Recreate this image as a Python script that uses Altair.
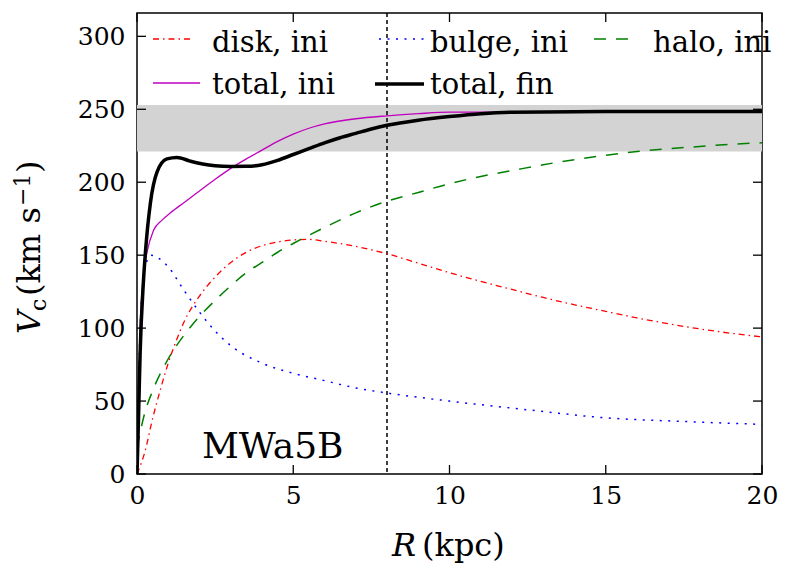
import altair as alt
import pandas as pd

# ---------------- data ----------------
R_DISK = [0, 0.25, 0.5, 0.75, 1.0, 1.25, 1.5, 2.0, 2.5, 3.0, 3.5, 4.0, 4.5, 5.0, 5.5, 6.0, 7.0, 8.0, 9.0, 10.0, 11.0, 12.0, 13.0, 14.0, 15.0, 16.0, 17.0, 18.0, 19.0, 20.0]
V_DISK = [0, 15, 38, 58, 76, 91, 104, 122, 135, 145, 152, 156.5, 159, 160.5, 160.8, 159.5, 156, 151, 144.5, 138, 132, 126.5, 121, 116, 111.5, 107, 103, 99.5, 96.5, 94]

R_BULGE = [0, 0.05, 0.1, 0.2, 0.3, 0.45, 0.6, 1.0, 1.5, 2.0, 2.5, 3.0, 4.0, 5.0, 6.0, 7.0, 8.0, 10.0, 12.5, 15.0, 17.5, 20.0]
V_BULGE = [0, 60, 100, 132, 145, 150, 149, 142, 126, 111, 98, 88, 76, 69, 64, 59, 55.5, 50, 44, 38.5, 36, 34]

R_HALO = [0, 0.25, 0.5, 1.0, 1.5, 2.0, 2.5, 3.0, 3.5, 4.0, 4.5, 5.0, 6.0, 7.0, 8.0, 9.0, 10.0, 11.0, 12.0, 13.0, 14.0, 15.0, 16.0, 17.0, 18.0, 19.0, 20.0]
V_HALO = [18, 42, 57, 79, 95, 108, 119, 129, 138, 145, 152, 158, 169, 179, 187, 193, 199, 204, 208, 212, 215.5, 218.5, 221, 223, 224.5, 226, 227]

R_TOT_INI = [0, 0.1, 0.2, 0.32, 0.53, 0.8, 1.07, 1.5, 2.0, 2.5, 3.0, 3.5, 4.0, 4.5, 5.0, 5.5, 6.0, 7.0, 8.0, 9.0, 10.0, 12.0, 15.0, 20.0]
V_TOT_INI = [0, 100, 135, 152, 167, 174, 179, 186, 194, 202, 209.5, 216, 222, 228, 233, 237, 240, 243.5, 245.5, 247, 248, 248, 248, 248]

R_TOT_FIN = [0, 0.05, 0.1, 0.2, 0.27, 0.43, 0.64, 0.96, 1.28, 1.7, 2.1, 2.5, 3.0, 3.5, 4.0, 4.5, 5.0, 5.5, 6.0, 6.5, 7.0, 7.5, 8.0, 9.0, 10.0, 11.0, 12.0, 15.0, 20.0]
V_TOT_FIN = [0, 40, 83, 130, 152, 186, 207, 216, 217, 214.5, 212.5, 211.3, 210.8, 210.9, 212, 215, 219, 223, 227, 230.5, 233.5, 236.5, 239, 242.5, 245, 247, 248, 248.5, 248.5]

BAND_LO, BAND_HI = 221, 253
R_SUN = 8.0

X_TICKS = [0, 5, 10, 15, 20]
Y_TICKS = [0, 50, 100, 150, 200, 250, 300]
X_DOMAIN = [0, 20]
Y_DOMAIN = [0, 316]

LABEL_TEXT = "MWa5B"

# ---------------- styling ----------------
FONT = "DejaVu Serif"
W, H = 625, 461
TICK_LEN = 9

x_scale = alt.Scale(domain=X_DOMAIN, nice=False, zero=False)
y_scale = alt.Scale(domain=Y_DOMAIN, nice=False, zero=False)

X_AXIS = alt.Axis(values=X_TICKS, format="d", ticks=False, tickSize=0, labelPadding=9,
                  labelFont=FONT, labelFontSize=25, labelColor="black", domain=False,
                  grid=False, title=None, labelFlush=False)
Y_AXIS = alt.Axis(values=Y_TICKS, format="d", ticks=False, tickSize=0, labelPadding=12,
                  labelFont=FONT, labelFontSize=25, labelColor="black", domain=False,
                  grid=False, title=None)


def X(field):
    return alt.X(field, type="quantitative", scale=x_scale, axis=X_AXIS)


def Y(field):
    return alt.Y(field, type="quantitative", scale=y_scale, axis=Y_AXIS)


def curve(R, V, color, width, dash=None):
    df = pd.DataFrame({"R": R, "V": V})
    kw = dict(color=color, strokeWidth=width, interpolate="monotone", clip=True, strokeCap="butt")
    if dash:
        kw["strokeDash"] = dash
    return alt.Chart(df).mark_line(**kw).encode(x=X("R"), y=Y("V"), order="R:Q")


one = pd.DataFrame({"a": [0]})

band = alt.Chart(pd.DataFrame({"x0": [X_DOMAIN[0]], "x1": [X_DOMAIN[1]],
                               "lo": [BAND_LO], "hi": [BAND_HI]})).mark_rect(
    color="#d3d3d3").encode(x=X("x0"), x2="x1", y=Y("lo"), y2="hi")

vline = alt.Chart(pd.DataFrame({"R": [R_SUN]})).mark_rule(
    color="black", strokeWidth=1.5, strokeDash=[4, 3]).encode(x=X("R"))

disk = curve(R_DISK, V_DISK, "#ff0000", 1.3, [6, 4, 1.5, 4])
bulge = curve(R_BULGE, V_BULGE, "#0000ff", 1.5, [2, 6.5])
halo = curve(R_HALO, V_HALO, "#008000", 1.5, [12, 10])
tot_ini = curve(R_TOT_INI, V_TOT_INI, "#bf00bf", 1.3)
tot_fin = curve(R_TOT_FIN, V_TOT_FIN, "#000000", 3.5)

# inward ticks on all four sides
xt = pd.DataFrame({"t": X_TICKS})
yt = pd.DataFrame({"t": Y_TICKS})
tick_style = dict(color="black", strokeWidth=1.3)
ticks = [
    alt.Chart(xt).mark_rule(**tick_style).encode(x=X("t"), y=alt.value(H), y2=alt.value(H - TICK_LEN)),
    alt.Chart(xt).mark_rule(**tick_style).encode(x=X("t"), y=alt.value(0), y2=alt.value(TICK_LEN)),
    alt.Chart(yt).mark_rule(**tick_style).encode(y=Y("t"), x=alt.value(0), x2=alt.value(TICK_LEN)),
    alt.Chart(yt).mark_rule(**tick_style).encode(y=Y("t"), x=alt.value(W), x2=alt.value(W - TICK_LEN)),
]


def txt(s, x, y, size, italic=False, angle=0, align="left"):
    kw = dict(text=s, font=FONT, fontSize=size, color="black", align=align, baseline="alphabetic")
    if italic:
        kw["fontStyle"] = "italic"
    if angle:
        kw["angle"] = angle
    return alt.Chart(one).mark_text(**kw).encode(x=alt.value(x), y=alt.value(y))


def sample(x1, x2, y, color, width, dash=None):
    kw = dict(color=color, strokeWidth=width, strokeCap="butt")
    if dash:
        kw["strokeDash"] = dash
    return alt.Chart(one).mark_rule(**kw).encode(x=alt.value(x1), x2=alt.value(x2), y=alt.value(y))


LEG = 29
legend = [
    sample(16, 55, 26, "#ff0000", 1.3, [6, 4, 1.5, 4]), txt("disk, ini", 75, 39, LEG),
    sample(242, 287, 26, "#0000ff", 1.5, [2, 6.5]), txt("bulge, ini", 293, 39, LEG),
    sample(457, 499, 26, "#008000", 1.5, [12, 10]), txt("halo, ini", 516, 39, LEG),
    sample(16, 63, 70, "#bf00bf", 1.3), txt("total, ini", 75, 81, LEG),
    sample(238, 287, 71, "#000000", 3.5), txt("total, fin", 293, 81, LEG),
]

labels = [
    txt(LABEL_TEXT, 65, 445, 36),
    # x title
    txt("R", 255, 543, 32, italic=True),
    txt("(kpc)", 285, 543, 32),
    # y title (rotated)
    txt("V", -97, 321, 32, italic=True, angle=270),
    txt("c", -91, 298, 22, angle=270),
    txt("(km s", -97, 283, 32, angle=270),
    txt("\u22121", -107, 193, 22, angle=270),
    txt(")", -97, 160, 32, angle=270),
]

chart = alt.layer(band, vline, disk, bulge, halo, tot_ini, tot_fin, *ticks, *legend, *labels).properties(
    width=W, height=H,
    autosize=alt.AutoSizeParams(type="none"),
    padding={"left": 137, "top": 13, "right": 28, "bottom": 91},
    background="white",
).configure_view(stroke="black", strokeWidth=1.5)

chart.save("out.html", embed_options={"renderer": "svg", "actions": False})
